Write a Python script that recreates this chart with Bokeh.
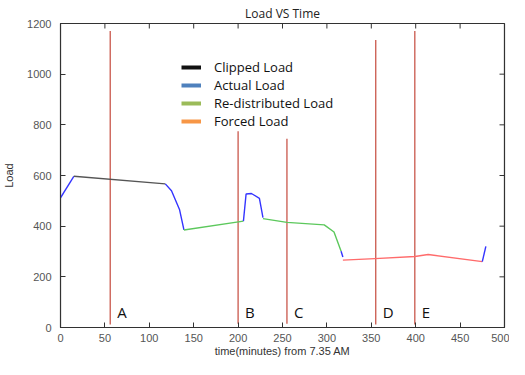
import math
from bokeh.plotting import figure
from bokeh.models import Range1d, Legend, LegendItem, SingleIntervalTicker, BoxAnnotation
from bokeh.embed import file_html
from bokeh.resources import INLINE
from bokeh.core.properties import value

# ---- data ----
actual1_x = [0, 15]
actual1_y = [512, 597]
clipped_x = [15, 118]
clipped_y = [597, 567]
actual2_x = [118, 125, 134, 139]
actual2_y = [567, 540, 466, 385]
redist1_x = [139, 206]
redist1_y = [385, 420]
actual3_x = [206, 209, 215, 224, 228]
actual3_y = [420, 527, 529, 510, 434]
redist2_x = [228, 255, 297, 308, 316]
redist2_y = [430, 415, 405, 377, 301]
actual4_x = [316, 318]
actual4_y = [301, 278]
forced_x = [318, 354, 399, 414, 475]
forced_y = [266, 272, 280, 288, 260]
actual5_x = [475, 479]
actual5_y = [260, 320]

marker_x = [56, 200, 255, 355, 399]
marker_top = [1170, 775, 745, 1135, 1170]
marker_bottom = [12, 15, 15, 12, 12]
marker_labels = ["A", "B", "C", "D", "E"]
marker_label_y = [22, 22, 22, 22, 22]

x_ticks = [0, 50, 100, 150, 200, 250, 300, 350, 400, 450, 500]
y_ticks = [0, 200, 400, 600, 800, 1000, 1200]
x_max = 500
y_max = 1200

legend_labels = ["Clipped Load", "Actual Load", "Re-distributed Load", "Forced Load"]
legend_colors = ["#111111", "#4f81bd", "#9bbb59", "#f79646"]

p = figure(width=509, height=359, output_backend="svg", toolbar_location=None,
           x_range=Range1d(0, x_max), y_range=Range1d(0, y_max),
           title="Load VS Time", min_border_left=59, min_border_right=5,
           min_border_top=2)

p.title.align = "center"
p.title.text_font = "Open Sans"
p.title.text_font_size = "12px"
p.title.text_font_style = "normal"
p.title.text_color = "#222222"
p.title.standoff = 4

p.xgrid.grid_line_alpha = 0
p.ygrid.grid_line_alpha = 0
p.outline_line_color = "#333333"
p.outline_line_width = 1.2

for ax in [p.xaxis[0], p.yaxis[0]]:
    ax.major_tick_in = 5
    ax.major_tick_out = 0
    ax.minor_tick_line_color = None
    ax.axis_line_color = "#333333"
    ax.major_tick_line_color = "#333333"
    ax.major_label_text_font = "Liberation Sans"
    ax.major_label_text_font_size = "11px"
    ax.major_label_text_color = "#555555"
    ax.major_label_text_line_height = 1.0
    ax.axis_label_text_font = "Liberation Sans"
    ax.axis_label_text_font_size = "11px"
    ax.axis_label_text_font_style = "normal"
    ax.axis_label_text_color = "#333333"
    ax.axis_label_text_line_height = 1.0

p.xaxis[0].ticker = SingleIntervalTicker(interval=50)
p.yaxis[0].ticker = SingleIntervalTicker(interval=200)
p.xaxis[0].axis_label = "time(minutes) from 7.35 AM"
p.yaxis[0].axis_label = "Load"
p.xaxis[0].major_label_standoff = 2
p.xaxis[0].axis_label_standoff = 0
p.yaxis[0].major_label_standoff = 5
p.yaxis[0].axis_label_standoff = 9

# frame box drawn as an annotation as well
p.add_layout(BoxAnnotation(left=0, right=x_max, bottom=0, top=y_max,
                           fill_alpha=0, line_color="#333333", line_width=1.2,
                           level="overlay"))

# inward ticks on the top and right edges of the frame
p.ray(x=x_ticks, y=[y_max] * len(x_ticks), length=5, length_units="screen",
      angle=-math.pi / 2, line_color="#333333", line_width=1)
p.ray(x=[x_max] * len(y_ticks), y=y_ticks, length=5, length_units="screen",
      angle=math.pi, line_color="#333333", line_width=1)

# marker lines
p.segment(x0=marker_x, y0=marker_bottom, x1=marker_x, y1=marker_top,
          line_color="#c0392b", line_width=1.3, line_alpha=0.85)
p.text(x=marker_x, y=marker_label_y, text=marker_labels, x_offset=7,
       text_font=value("Open Sans"), text_font_size="15px", text_color="#111111",
       text_baseline="bottom", text_align="left")

blue = "#3434ff"
lw = 1.4
p.line(actual1_x, actual1_y, line_color=blue, line_width=lw)
p.line(clipped_x, clipped_y, line_color="#555555", line_width=lw)
p.line(actual2_x, actual2_y, line_color=blue, line_width=lw)
p.line(redist1_x, redist1_y, line_color="#5cc85c", line_width=lw)
p.line(actual3_x, actual3_y, line_color=blue, line_width=lw)
p.line(redist2_x, redist2_y, line_color="#5cc85c", line_width=lw)
p.line(actual4_x, actual4_y, line_color=blue, line_width=lw)
p.line(forced_x, forced_y, line_color="#ff6b6b", line_width=lw)
p.line(actual5_x, actual5_y, line_color=blue, line_width=lw)

# legend swatches: renderers whose points lie outside the visible range
hidden_x = [-100, -90]
hidden_y = [-100, -90]
items = []
for lab, col in zip(legend_labels, legend_colors):
    r = p.line(hidden_x, hidden_y, line_color=col, line_width=4)
    items.append(LegendItem(label=lab, renderers=[r]))

legend = Legend(items=items, location=(121, 197), border_line_color=None,
                background_fill_alpha=0, label_text_font="Open Sans",
                label_text_font_size="13px", label_text_color="#111111",
                glyph_width=20, glyph_height=8, label_height=12, spacing=0,
                padding=2, label_standoff=13)
p.add_layout(legend, "center")

open("out.html", "w").write(file_html(p, INLINE))
